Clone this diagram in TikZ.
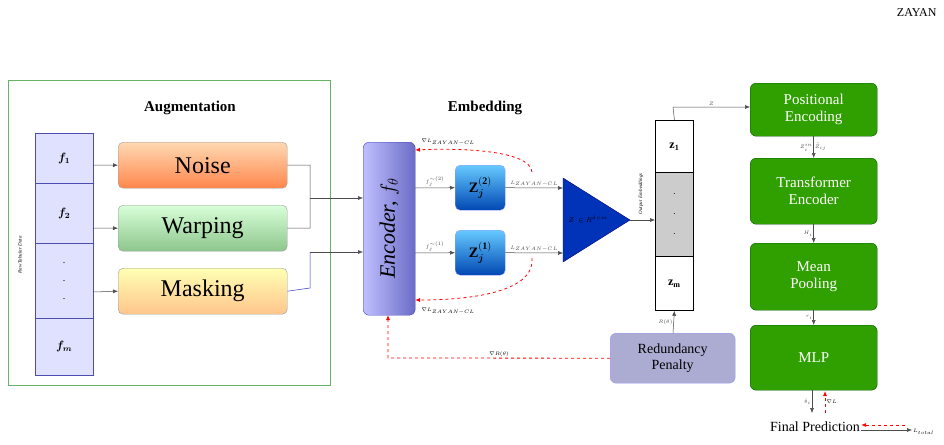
\documentclass[tikz,border=0pt]{standalone}
\usepackage{amsmath,bm}
\usepackage{fontspec}
\setmainfont{Liberation Serif}
\usetikzlibrary{arrows.meta}
\begin{document}
\begin{tikzpicture}[x=1pt,y=-1pt,
 ar/.style={-{Latex[length=5pt,width=4pt]},black!70,line width=0.5pt},
 rd/.style={-{Latex[length=5pt,width=4pt]},red,dashed,line width=0.8pt},
 gbox/.style={draw=green!35!black,fill=green!50!black!75!lime,rounded corners=6pt,text=white,font=\fontsize{15}{17}\selectfont,align=center,inner sep=0pt},
 aug/.style={draw=black!40,rounded corners=5pt,minimum width=169pt,minimum height=46pt,font=\fontsize{24}{26}\selectfont,inner sep=0pt},
 cell/.style={draw=blue!40!gray,fill=blue!12,minimum width=58pt,inner sep=0pt},
 lab/.style={font=\tiny,inner sep=1pt}]
\useasboundingbox (0,0) rectangle (944,444);
\node[anchor=north east,font=\fontsize{12}{14}\selectfont] (zayan) at (940,5) {ZAYAN};
\node[draw=green!50!black!60,line width=0.6pt,minimum width=322pt,minimum height=305pt,anchor=north west] (frame) at (8,80) {};
\node[font=\bfseries\fontsize{15}{17}\selectfont] (augt) at (190,108) {Augmentation};
\node[font=\bfseries\fontsize{15}{17}\selectfont] (embt) at (485,108) {Embedding};
% feature column
\node[cell,minimum height=50pt,anchor=north west] (f1) at (35,133) {\large $\bm{f_1}$};
\node[cell,minimum height=60pt,anchor=north west] (f2) at (35,183) {\large $\bm{f_2}$};
\node[cell,minimum height=75pt,anchor=north west,align=center] (fd) at (35,243) {.\\[6pt].\\[6pt].};
\node[cell,minimum height=57pt,anchor=north west] (fm) at (35,318) {\large $\bm{f_m}$};
\node[rotate=90,font=\itshape\tiny] (raw) at (20,255) {Raw Tabular Data};
% aug boxes
\node[aug,top color=orange!30,bottom color=orange!65!red!70,anchor=north west] (noise) at (118,142) {Noise};
\node[aug,top color=green!15,bottom color=green!50!black!45,anchor=north west] (warp) at (118,205) {Warping};
\node[aug,top color=yellow!30,bottom color=orange!45,anchor=north west] (mask) at (118,268) {Masking};
\draw[ar] (93,165) -- (noise.west);
\draw[ar] (93,228) -- (warp.west);
\draw[ar] (93,292) -- (mask.west);
% encoder
\node[draw=blue!50!gray,left color=blue!25,right color=blue!45!gray!80,rounded corners=6pt,minimum width=52pt,minimum height=173pt,anchor=north west,inner sep=0pt] (enc) at (363,142) {};
\node[rotate=90,font=\fontsize{22}{24}\selectfont] (enct) at (enc.center) {\itshape Encoder, $f_\theta$};
\draw[black!70,line width=0.5pt] (noise.east) -- (310,165) -- (310,198);
\draw[black!70,line width=0.5pt] (warp.east) -- (310,228) -- (310,198);
\draw[blue!60!gray,line width=0.5pt] (mask.east) -- (310,288) -- (310,252);
\draw[ar] (310,198) -- (363,198);
\draw[ar] (310,252) -- (363,252);
% Z boxes
\node[draw=blue!40,top color=blue!35!cyan!60,bottom color=blue!60!cyan!70!black,rounded corners=5pt,minimum width=50pt,minimum height=45pt,anchor=north west,inner sep=0pt] (z2) at (455,165) {\Large $\mathbf{Z}_{\bm{j}}^{\mathbf{(2)}}$};
\node[draw=blue!40,top color=blue!35!cyan!60,bottom color=blue!60!cyan!70!black,rounded corners=5pt,minimum width=50pt,minimum height=45pt,anchor=north west,inner sep=0pt] (z1) at (455,230) {\Large $\mathbf{Z}_{\bm{j}}^{\mathbf{(1)}}$};
\draw[ar] (415,188) -- node[lab,above]{$f_j^{\sim(2)}$} (z2.west);
\draw[ar] (415,253) -- node[lab,above]{$f_j^{\sim(1)}$} (z1.west);
% triangle
\coordinate (ta) at (563,178); \coordinate (tb) at (563,262); \coordinate (tc) at (630,220);
\filldraw[draw=blue!50!black,fill=blue!65!black!80!cyan] (ta) -- (tc) -- (tb) -- cycle;
\node[font=\scriptsize] (tri) at (588,220) {$Z\ \in R^{d\times m}$};
\draw[ar] (z2.east) -- node[lab,above]{$L_{ZAYAN-CL}$} (563,188);
\draw[ar] (z1.east) -- node[lab,above]{$L_{ZAYAN-CL}$} (563,253);
\draw[rd] (532,172) .. controls (530,150) and (460,148) .. (415,150);
\node[lab] (g1) at (448,142) {$\nabla L_{ZAYAN-CL}$};
\draw[rd] (532,258) .. controls (535,295) and (460,300) .. (415,300);
\node[lab] (g2) at (448,311) {$\nabla L_{ZAYAN-CL}$};
% column
\node[draw,line width=0.8pt,fill=white,minimum width=38pt,minimum height=52pt,anchor=north west,inner sep=0pt] (cz1) at (655,120) {\large $\mathbf{z_1}$};
\node[draw,line width=0.8pt,fill=black!20,minimum width=38pt,minimum height=84pt,anchor=north west,inner sep=0pt,align=center] (czd) at (655,172) {$\cdot$\\[8pt]$\cdot$\\[8pt]$\cdot$};
\node[draw,line width=0.8pt,fill=white,minimum width=38pt,minimum height=54pt,anchor=north west,inner sep=0pt] (czm) at (655,256) {\large $\mathbf{z_m}$};
\draw[ar] (tc) -- (655,220);
\node[rotate=90,font=\itshape\tiny,anchor=west] (oe) at (641,218) {Output\ \ Embeddings};
% green
\node[gbox,minimum width=127pt,minimum height=53pt,anchor=north west] (pe) at (750,83) {Positional\\Encoding};
\node[gbox,minimum width=127pt,minimum height=66pt,anchor=north west] (te) at (750,158) {Transformer\\Encoder};
\node[gbox,minimum width=127pt,minimum height=67pt,anchor=north west] (mp) at (750,243) {Mean\\Pooling};
\node[gbox,minimum width=127pt,minimum height=65pt,anchor=north west] (mlp) at (750,325) {MLP};
\draw[ar] (cz1.north) -- (673,107) -- node[lab,above]{$Z$} (pe.west |- 0,107);
\draw[ar] (pe.south) -- node[lab,left]{$Z_i^{in}$} node[lab,right]{$\tilde Z_{ij}$} (te.north);
\draw[ar] (te.south) -- node[lab,left]{$H_i$} (mp.north);
\draw[ar] (mp.south) -- node[lab,left]{$r_i$} (mlp.north);
% redundancy
\node[draw=blue!40,fill=blue!30!gray!50,rounded corners=6pt,minimum width=125pt,minimum height=50pt,anchor=north west,align=center,inner sep=0pt,font=\fontsize{14}{16}\selectfont] (rp) at (610,333) {Redundancy\\Penalty};
\draw[ar] (673,333) -- node[lab,left]{$R(\theta)$} (czm.south);
\draw[rd] (rp.west) -- node[lab,above,text=black]{$\nabla R(\theta)$} (388,358) -- (388,315);
% final
\node[font=\fontsize{14}{16}\selectfont,inner sep=1pt] (fp) at (815,427) {Final Prediction};
\draw[ar] (812,390) -- node[lab,left]{$\hat y_i$} (812,413);
\draw[rd] (825,413) -- node[lab,right,text=black]{$\nabla L$} (825,391);
\coordinate (lt) at (912,430);
\draw[ar] (fp.east |- 0,430) -- (lt);
\node[lab,anchor=west] (ltot) at (912,432) {$L_{total}$};
\draw[rd] (905,425) -- (fp.east |- 0,425);
\end{tikzpicture}
\end{document}
